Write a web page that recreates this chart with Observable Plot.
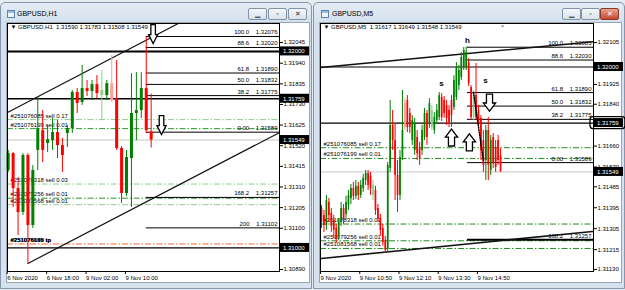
<!DOCTYPE html>
<html><head><meta charset="utf-8">
<script src="https://cdn.jsdelivr.net/npm/d3@7"></script>
<script src="https://cdn.jsdelivr.net/npm/@observablehq/plot@0.6"></script>
<style>
body{margin:0;width:625px;height:290px;background:#e6ebf0;position:relative;overflow:hidden;font-family:"Liberation Sans",Arial,sans-serif}
.win{position:absolute;box-sizing:border-box;border:1px solid #8496ab;border-radius:5px 5px 0 0;background:linear-gradient(#e3ecf6,#d4e0ed 20px,#d6e2ee)}
.area{position:absolute;box-sizing:border-box;background:#fff;border:1px solid #9aa6b2}
.ttl{position:absolute;font-size:7px;color:#000}
.icon{position:absolute;width:8px;height:8px;box-sizing:border-box;border:1px solid #5d83b5;background:linear-gradient(#9fbbe0 0 2px,#eef4fb 2px)}
.btn{position:absolute;top:8px;width:19px;height:12px;box-sizing:border-box;border:1px solid #8093a8;border-radius:2px;background:linear-gradient(#f4f7fb,#d9e2ec);font-size:7px;line-height:10px;text-align:center;color:#333}
.btn.red{background:linear-gradient(#e9a28f,#c8472e);color:#fff;border-color:#8a3a2a}
.chart{position:absolute}
</style></head>
<body>
<div class="win" style="left:0;top:2px;width:312px;height:287px"></div>
<div class="icon" style="left:7px;top:10px"></div>
<div class="ttl" style="left:17px;top:10px">GBPUSD,H1</div>
<div class="btn" style="left:248px">&#x2581;</div>
<div class="btn" style="left:268px">&#x25AB;</div>
<div class="btn" style="left:288px">&#x2715;</div>
<div class="area" style="left:6px;top:22px;width:304px;height:261px"></div>

<div class="win" style="left:313px;top:2px;width:312px;height:287px"></div>
<div class="icon" style="left:321px;top:10px"></div>
<div class="ttl" style="left:332px;top:10px">GBPUSD,M5</div>
<div class="btn" style="left:562px">&#x2581;</div>
<div class="btn" style="left:581px">&#x25AB;</div>
<div class="btn red" style="left:600px">&#x2715;</div>
<div class="area" style="left:319px;top:22px;width:303px;height:261px"></div>

<div id="left" class="chart" style="left:7px;top:23px"></div>
<div id="right" class="chart" style="left:320px;top:23px"></div>

<script>
// ---------- H1 chart data ----------
const h1Open  = [1.31394,1.31480,1.31302,1.31180,1.31470,1.31114,1.31496,1.31597,1.31531,1.31546,1.31587,1.31521,1.31582,1.31607,1.31791,1.31740,1.31811,1.31796,1.31831,1.31775,1.31775,1.31836,1.31760,1.31506,1.31277,1.31455,1.31684,1.31699,1.31811,1.31590];
const h1High  = [1.31496,1.31485,1.31358,1.31480,1.31480,1.31419,1.31765,1.31699,1.31623,1.31658,1.31648,1.31557,1.31623,1.31801,1.31811,1.31928,1.31852,1.31852,1.31877,1.31903,1.31852,1.31979,1.31953,1.31516,1.31496,1.31887,1.31892,1.31892,1.32076,1.31783];
const h1Low   = [1.31384,1.31206,1.31063,1.31165,1.30921,1.31099,1.31394,1.31434,1.31485,1.31496,1.31455,1.31384,1.31511,1.31582,1.31684,1.31725,1.31770,1.31750,1.31760,1.31648,1.31750,1.31740,1.31496,1.31226,1.31261,1.31206,1.31546,1.31658,1.31582,1.31508];
const h1Close = [1.31480,1.31302,1.31180,1.31470,1.31114,1.31394,1.31607,1.31496,1.31551,1.31587,1.31521,1.31470,1.31607,1.31791,1.31735,1.31811,1.31796,1.31831,1.31786,1.31801,1.31836,1.31750,1.31506,1.31277,1.31460,1.31684,1.31699,1.31811,1.31597,1.31549];
const h1Faded = [19, 21];
const h1DateTicks = [0, 8, 16, 24];
const h1DateLabels = ["6 Nov 2020", "6 Nov 18:00", "9 Nov 02:00", "9 Nov 10:00"];
const h1PriceTicks = [1.32045,1.31940,1.31835,1.31730,1.31625,1.31520,1.31415,1.31310,1.31205,1.31100,1.30890];
const h1FibLevels = ["100.0","88.6","61.8","50.0","38.2","0.00","168.2","200"];
const h1FibPrices = [1.32076,1.32020,1.31890,1.31832,1.31775,1.31589,1.31257,1.31102];
const h1Levels = [1.32000, 1.31759, 1.31000];
const h1Header = "GBPUSD,H1  1.31590 1.31783 1.31508 1.31549";
const h1TrendUpper = [[-0.14, 1.31689], [34.5, 1.32142]];
const h1TrendLower = [[4, 1.30921], [55.03, 1.31587]];
const h1ArrowsDown = [[29.4, 1.32088], [31.1, 1.31625]];

// ---------- M5 chart data ----------
const m5Open  = [1.31392,1.31362,1.31319,1.31418,1.31371,1.31341,1.31306,1.31272,1.31332,1.31392,1.31366,1.31405,1.31435,1.31478,1.31444,1.31487,1.31448,1.31478,1.31512,1.31542,1.31530,1.31448,1.31469,1.31392,1.31349,1.31306,1.31255,1.31216,1.31564,1.31749,1.31684,1.31534,1.31448,1.31611,1.31843,1.31856,1.31800,1.31684,1.31641,1.31697,1.31654,1.31641,1.31697,1.31800,1.31757,1.31740,1.31727,1.31770,1.31783,1.31869,1.31856,1.31834,1.31813,1.31856,1.31826,1.31869,1.31920,1.31955,1.31998,1.31998,1.32019,1.31912,1.31783,1.31877,1.31813,1.31779,1.31684,1.31598,1.31727,1.31555,1.31697,1.31654,1.31684,1.31617];
const m5High  = [1.31405,1.31383,1.31448,1.31435,1.31392,1.31362,1.31323,1.31349,1.31418,1.31409,1.31444,1.31469,1.31495,1.31504,1.31512,1.31504,1.31512,1.31538,1.31555,1.31555,1.31547,1.31512,1.31487,1.31409,1.31366,1.31323,1.31272,1.31590,1.31856,1.31813,1.31757,1.31598,1.31641,1.31899,1.31864,1.31877,1.31822,1.31791,1.31779,1.31727,1.31676,1.31749,1.31822,1.31813,1.31864,1.31834,1.31804,1.31839,1.31890,1.31886,1.31873,1.31856,1.31834,1.31877,1.31963,1.32019,1.32006,1.32062,1.32084,1.32085,1.32036,1.31920,1.31899,1.32015,1.31834,1.31791,1.31727,1.31749,1.31783,1.31706,1.31714,1.31684,1.31706,1.31649];
const m5Low   = [1.31306,1.31289,1.31298,1.31332,1.31289,1.31263,1.31242,1.31255,1.31315,1.31323,1.31349,1.31383,1.31409,1.31426,1.31431,1.31426,1.31435,1.31461,1.31491,1.31469,1.31448,1.31426,1.31362,1.31332,1.31272,1.31229,1.31199,1.31203,1.31547,1.31641,1.31426,1.31375,1.31426,1.31598,1.31727,1.31718,1.31714,1.31663,1.31620,1.31598,1.31577,1.31620,1.31684,1.31663,1.31736,1.31727,1.31710,1.31753,1.31770,1.31766,1.31779,1.31749,1.31740,1.31740,1.31813,1.31856,1.31899,1.31942,1.31985,1.31985,1.31916,1.31770,1.31770,1.31770,1.31744,1.31598,1.31547,1.31512,1.31512,1.31534,1.31564,1.31547,1.31577,1.31548];
const m5Close = [1.31332,1.31319,1.31426,1.31362,1.31315,1.31298,1.31263,1.31332,1.31392,1.31349,1.31418,1.31448,1.31478,1.31444,1.31487,1.31448,1.31491,1.31521,1.31542,1.31491,1.31478,1.31491,1.31383,1.31349,1.31298,1.31246,1.31212,1.31577,1.31749,1.31684,1.31534,1.31448,1.31611,1.31727,1.31740,1.31740,1.31740,1.31770,1.31757,1.31628,1.31607,1.31727,1.31800,1.31697,1.31843,1.31813,1.31783,1.31813,1.31877,1.31783,1.31800,1.31779,1.31761,1.31791,1.31942,1.31998,1.31985,1.32041,1.32071,1.32062,1.31929,1.31783,1.31877,1.31783,1.31761,1.31641,1.31577,1.31727,1.31577,1.31684,1.31585,1.31568,1.31598,1.31549];
const m5Faded = [21, 34, 45, 62];
const m5DateTicks = [0, 16, 32, 48, 64];
const m5DateLabels = ["9 Nov 2020", "9 Nov 10:50", "9 Nov 12:10", "9 Nov 13:30", "9 Nov 14:50"];
const m5PriceTicks = [1.32105,1.31925,1.31840,1.31660,1.31570,1.31485,1.31395,1.31305,1.31215,1.31130];
const m5FibLevels = ["100.0","88.6","61.8","50.0","38.2","0.00","168.2"];
const m5FibPrices = [1.32085,1.32030,1.31890,1.31832,1.31775,1.31589,1.31257];
const m5Levels = [1.32000, 1.31759];
const m5Header = "GBPUSD,M5  1.31617 1.31649 1.31548 1.31549";
const m5TrendUpper = [[-0.41, 1.31998], [110.9, 1.32109]];
const m5TrendLower = [[0, 1.31177], [110.5, 1.31293]];
const m5Dotted = [[62, 1.31890], [66, 1.31598]];
const m5ArrowsUp = [[53, 1.31697], [60.3, 1.31676]];
const m5ArrowsDown = [[68.5, 1.31847]];
const m5Marks = [["h", 59.5, 1.32114], ["s", 48.9, 1.31929], ["s", 66.9, 1.31942]];

// ---------- shared ----------
const bidPrice = 1.31549;
const orderIds = ["#251076085","#251076199","#251078318","#251079256","#251081568"];
const orderLots = [0.17, 0.01, 0.03, 0.01, 0.01];
const orderPrices = [1.31653, 1.31607, 1.31325, 1.31253, 1.31220];
const tpIds = ["#251076085", "#251076199"];
const tpPrice = 1.31020;

function arrowSymbol(dir, aspect) {
  return {draw(ctx, size) {
    const r = Math.sqrt(size / Math.PI), hw = r * aspect, sw = hw * 0.5, hy = 0.05 * r * dir;
    ctx.moveTo(-sw, -r * dir); ctx.lineTo(sw, -r * dir); ctx.lineTo(sw, hy); ctx.lineTo(hw, hy);
    ctx.lineTo(0, r * dir); ctx.lineTo(-hw, hy); ctx.lineTo(-sw, hy); ctx.closePath();
  }};
}

function chart(cfg) {
  const bars = cfg.open.map((o, i) => ({i, o, h: cfg.high[i], l: cfg.low[i], c: cfg.close[i],
    up: cfg.close[i] >= o, faded: cfg.faded.includes(i)}));
  const col = d => d.up ? (d.faded ? "#8ccf8c" : "#008000") : (d.faded ? "#ff9c9c" : "#ff0000");
  const fibs = cfg.fibLevels.map((l, k) => ({l, p: cfg.fibPrices[k]}));
  const orders = orderIds.map((id, k) => ({id, label: `${id} sell ${orderLots[k].toFixed(2)}`, p: orderPrices[k]}));
  const xMax = cfg.xDomain[1];
  const pts = a => a.map(([i, p]) => ({i, p}));
  const marks = [
    Plot.ruleY([bidPrice], {stroke: "#c6c6c6"}),
    Plot.ruleY(orders, {y: "p", stroke: d => cfg.orderColor(d.id), strokeDasharray: "6,2,1.5,2"}),
    Plot.text(orders, {y: "p", text: "label", frameAnchor: "left", textAnchor: "start", dx: 3, dy: -4}),
  ];
  if (cfg.tp) {
    marks.push(Plot.ruleY([tpPrice], {stroke: "#f26b2e", strokeDasharray: "6,2,1.5,2"}));
    marks.push(Plot.text(tpIds, {y: () => tpPrice, text: d => `${d} tp`, frameAnchor: "left", textAnchor: "start", dx: 3, dy: -4, fontWeight: "bold"}));
  }
  marks.push(
    Plot.ruleY(cfg.levels, {stroke: "#000", strokeWidth: (d, k) => cfg.levelWidths[k]}),
    Plot.ruleY(fibs, {y: "p", x1: () => cfg.fibStart, x2: () => xMax, stroke: "#000", strokeWidth: d => d.l === "168.2" ? cfg.fib168 : 1}),
    Plot.text(fibs, {y: "p", text: d => `${d.l}    ${d.p.toFixed(5)}`, frameAnchor: "right", textAnchor: "end", dx: -2, dy: -4}),
    Plot.line(pts(cfg.trendUpper), {x: "i", y: "p", stroke: "#111", strokeWidth: cfg.trendW, clip: true}),
    Plot.line(pts(cfg.trendLower), {x: "i", y: "p", stroke: "#111", strokeWidth: cfg.trendW, clip: true}),
    Plot.ruleX(bars, {x: "i", y1: "l", y2: "h", stroke: col, strokeWidth: 1}),
    Plot.ruleX(bars, {x: "i", y1: "o", y2: "c", stroke: col, strokeWidth: cfg.bodyW})
  );
  if (cfg.dotted) marks.push(Plot.line(pts(cfg.dotted), {x: "i", y: "p", stroke: "#000", strokeDasharray: "1,1.5"}));
  if (cfg.arrowsDown) marks.push(Plot.dot(pts(cfg.arrowsDown), {x: "i", y: "p", r: cfg.arrowR, symbol: arrowSymbol(1, cfg.arrowAspect), fill: "#fff", stroke: "#000", strokeWidth: 1.3}));
  if (cfg.arrowsUp) marks.push(Plot.dot(pts(cfg.arrowsUp), {x: "i", y: "p", r: cfg.arrowR, symbol: arrowSymbol(-1, cfg.arrowAspect), fill: "#fff", stroke: "#000", strokeWidth: 1.3}));
  if (cfg.letters) marks.push(Plot.text(cfg.letters, {x: d => d[1], y: d => d[2], text: d => d[0], fontWeight: "bold", fontSize: 8}));
  marks.push(
    Plot.text([cfg.header], {frameAnchor: "top-left", dx: 3, dy: 1.5, text: d => "\u25BC " + d, fontSize: 6}),
    Plot.axisY({anchor: "right", ticks: cfg.priceTicks, tickFormat: d => d.toFixed(5), tickSize: 3, tickPadding: 1, label: null, fontSize: 6}),
    Plot.axisX({anchor: "bottom", ticks: cfg.dateTicks, tickFormat: (d) => cfg.dateLabels[cfg.dateTicks.indexOf(d)], tickSize: 3, tickPadding: 1, textAnchor: "start", dx: -1, label: null, fontSize: 6}),
    Plot.rect(cfg.boxes, {x1: () => xMax, x2: () => xMax, y1: d => d, y2: d => d, fill: "#000", insetLeft: 1, insetRight: -30, insetTop: -4.5, insetBottom: -4.5}),
    Plot.text(cfg.boxes, {y: d => d, text: d => d.toFixed(5), frameAnchor: "right", textAnchor: "start", dx: 3.5, fill: "#fff", fontSize: 6})
  );
  if (cfg.ring) marks.push(Plot.rect([cfg.ring], {x1: () => xMax, x2: () => xMax, y1: d => d, y2: d => d, fill: "none", stroke: "#000", strokeWidth: 1.3, rx: 3, insetLeft: -3, insetRight: -32, insetTop: -6, insetBottom: -6}));
  if (cfg.shift != null) marks.push(Plot.text(["\u25BC"], {x: () => cfg.shift, frameAnchor: "top", dy: 1, fill: "#9a9a9a", fontSize: 5}));
  marks.push(Plot.frame({stroke: "#000"}));
  return Plot.plot({
    width: cfg.width, height: 260, marginLeft: 0, marginTop: 0, marginRight: cfg.width - cfg.inner, marginBottom: 12,
    x: {type: "linear", domain: cfg.xDomain},
    y: {domain: cfg.yDomain},
    style: {fontFamily: "'Liberation Sans',Arial,sans-serif", fontSize: "6px", background: "transparent", overflow: "visible", color: "#000"},
    marks
  });
}

const lightIds = ["#251076085", "#251078318", "#251081568"];
document.getElementById("left").append(chart({
  open: h1Open, high: h1High, low: h1Low, close: h1Close, faded: h1Faded,
  width: 302, inner: 272, xDomain: [-0.14, 55.03], yDomain: [1.30880, 1.32142],
  dateTicks: h1DateTicks, dateLabels: h1DateLabels, priceTicks: h1PriceTicks,
  fibLevels: h1FibLevels, fibPrices: h1FibPrices, fibStart: 28, fib168: 1,
  levels: h1Levels, levelWidths: [2, 1.5, 1.2], header: h1Header,
  trendUpper: h1TrendUpper, trendLower: h1TrendLower, trendW: 1.2,
  arrowsDown: h1ArrowsDown, arrowR: 9.5, arrowAspect: 0.48,
  bodyW: 3, tp: true, boxes: [1.32000, 1.31759, bidPrice, 1.31000],
  orderColor: id => lightIds.includes(id) ? "#8fcf8f" : "#2a9a2a"
}));
document.getElementById("right").append(chart({
  open: m5Open, high: m5High, low: m5Low, close: m5Close, faded: m5Faded,
  width: 301, inner: 273, xDomain: [-0.41, 110.9], yDomain: [1.31121, 1.32187],
  dateTicks: m5DateTicks, dateLabels: m5DateLabels, priceTicks: m5PriceTicks,
  fibLevels: m5FibLevels, fibPrices: m5FibPrices, fibStart: 59.5, fib168: 2,
  levels: m5Levels, levelWidths: [1.2, 1.2], header: m5Header,
  trendUpper: m5TrendUpper, trendLower: m5TrendLower, trendW: 1.6,
  dotted: m5Dotted, arrowsUp: m5ArrowsUp, arrowsDown: m5ArrowsDown, arrowR: 8.5, arrowAspect: 0.72,
  letters: m5Marks, bodyW: 1.7, tp: false, boxes: [1.32000, 1.31759, bidPrice], ring: 1.31759, shift: 73.8,
  orderColor: () => "#1f8f1f"
}));
</script>
</body></html>
